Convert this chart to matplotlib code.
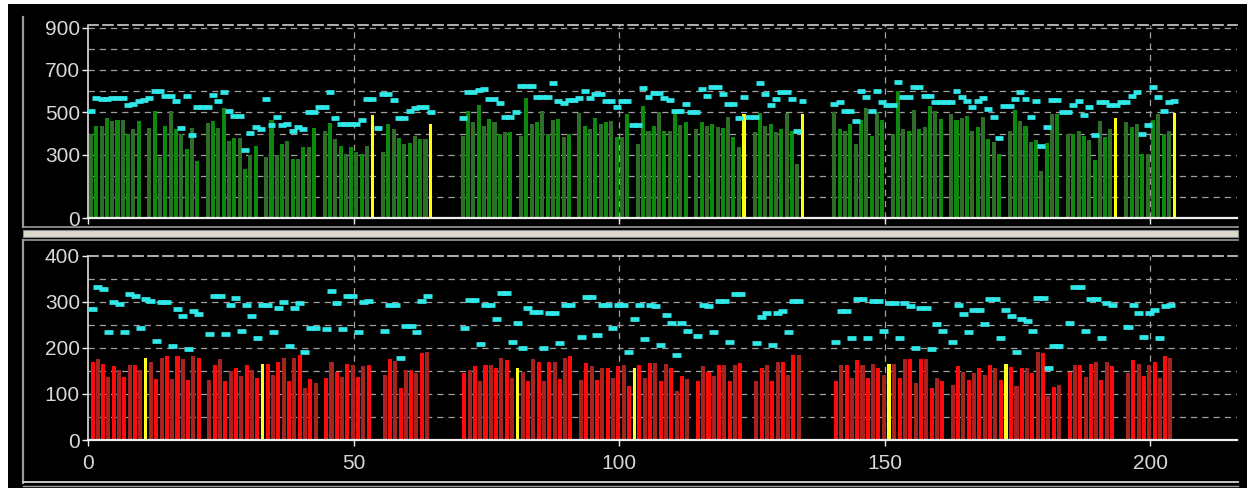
import numpy as np
import matplotlib
matplotlib.use("Agg")
import matplotlib.pyplot as plt
from matplotlib.lines import Line2D
from matplotlib.patches import Rectangle

# ---------------- data ----------------
# day positions: each block = 6 groups of 10 bars (top) / 4 groups (bottom)
top_group_starts = [0, 11, 22, 33, 44, 55, 70, 81, 92, 103, 114, 125,
                    140, 151, 162, 173, 184, 195]
top_group_len = 10
top_highlight_days = [53, 64, 123, 134, 193, 204]

top_values = [
    396, 435, 435, 474, 458, 466, 466, 396, 419, 458,
    427, 505, 287, 435, 505, 419, 396, 326, 427, 272,
    450, 458, 427, 520, 365, 380, 380, 233, 300, 342,
    287, 466, 300, 349, 365, 280, 280, 334, 334, 427,
    411, 450, 373, 342, 303, 334, 311, 303, 342, 489,
    311, 443, 419, 380, 349, 357, 388, 373, 373, 443,
    390, 506, 452, 536, 437, 468, 452, 399, 406, 406,
    390, 569, 444, 452, 506, 399, 466, 468, 382, 398,
    497, 437, 421, 475, 445, 452, 459, 382, 382, 490,
    350, 531, 414, 437, 500, 414, 412, 513, 440, 453,
    422, 453, 437, 445, 430, 424, 477, 382, 336, 492,
    406, 496, 437, 445, 406, 422, 496, 410, 257, 490,
    500, 422, 412, 445, 351, 466, 522, 388, 500, 466,
    400, 600, 422, 414, 513, 422, 430, 529, 506, 469,
    493, 466, 475, 484, 412, 430, 477, 375, 360, 303,
    414, 513, 458, 437, 360, 367, 221, 355, 490, 490,
    398, 398, 414, 386, 368, 273, 457, 382, 422, 475,
    453, 430, 443, 305, 305, 465, 492, 398, 412, 497,
]

top_cyan_blocks = [0, 70, 140]
top_cyan_block_len = 65
top_cyan = [
    # days 0-64
    505, 567, 562, 562, 567, 567, 567, 533, 540, 551,
    560, 567, 601, 601, 579, 579, 551, 424, 579, 393,
    523, 523, 523, 582, 554, 595, 505, 481, 481, 323,
    401, 430, 419, 564, 439, 477, 439, 446, 411, 430,
    419, 502, 502, 523, 523, 595, 471, 443, 443, 443,
    443, 466, 564, 564, 427, 585, 585, 556, 474, 474,
    505, 520, 523, 523, 500,
    # days 70-134
    471, 595, 595, 605, 610, 564, 564, 543, 477, 477,
    502, 626, 626, 626, 570, 570, 570, 640, 554, 543,
    559, 559, 567, 601, 567, 585, 585, 554, 554, 523,
    554, 554, 439, 439, 615, 570, 590, 590, 567, 559,
    508, 508, 539, 502, 502, 610, 579, 617, 617, 585,
    539, 539, 471, 574, 477, 477, 640, 585, 533, 564,
    595, 595, 564, 413, 554,
    # days 140-204
    539, 548, 508, 508, 461, 601, 573, 508, 601, 548,
    533, 533, 644, 570, 570, 617, 617, 579, 579, 548,
    548, 548, 548, 601, 570, 554, 523, 554, 567, 514,
    477, 377, 531, 531, 564, 595, 564, 477, 554, 339,
    430, 559, 559, 502, 502, 533, 554, 486, 523, 393,
    548, 548, 533, 533, 548, 548, 579, 595, 399, 439,
    621, 570, 508, 548, 554,
]

bot_group_starts = [0, 22, 44, 55, 70, 92, 114, 125, 140, 162, 184, 195]
bot_group_lens = [21, 21, 9, 9, 21, 21, 9, 9, 21, 21, 9, 9]
bot_highlight_days = [10, 32, 80, 102, 150, 172]

bot_values = [
    170, 175, 164, 137, 161, 152, 137, 163, 163, 152, 177, 170, 132, 177, 182, 132, 182, 175, 130, 182, 177,
    130, 163, 175, 128, 150, 156, 139, 163, 152, 134, 166, 166, 141, 170, 177, 127, 177, 185, 112, 132, 124,
    134, 170, 148, 136, 166, 163, 137, 161, 163,
    141, 175, 171, 112, 152, 152, 145, 188, 190,
    145, 152, 161, 127, 163, 163, 156, 177, 174, 134, 156, 148, 127, 175, 170, 127, 170, 170, 132, 177, 182,
    130, 168, 161, 130, 156, 156, 134, 161, 163, 117, 156, 163, 134, 168, 168, 127, 166, 156, 106, 139, 132,
    127, 161, 148, 139, 163, 163, 127, 163, 168,
    127, 156, 163, 127, 170, 170, 141, 185, 185,
    127, 163, 163, 134, 174, 163, 134, 166, 156, 141, 166, 166, 134, 175, 175, 124, 175, 175, 112, 134, 127,
    119, 161, 148, 130, 145, 156, 141, 163, 156, 130, 166, 159, 117, 156, 156, 145, 190, 188, 96, 116, 119,
    148, 163, 163, 137, 166, 170, 130, 170, 161,
    145, 174, 166, 139, 163, 170, 134, 182, 179,
]

bot_cyan = [
    284, 331, 328, 234, 299, 295, 234, 317, 313, 244, 306, 302, 215, 300, 299, 205, 284, 270, 197, 280, 273,
    229, 313, 313, 229, 292, 309, 236, 294, 270, 222, 292, 292, 234, 287, 299, 205, 287, 297, 190, 244, 244,
    241, 323, 297, 241, 313, 313, 234, 300, 302,
    236, 294, 292, 179, 248, 248, 234, 302, 313,
    244, 304, 304, 208, 293, 293, 263, 320, 320, 212, 253, 199, 287, 277, 277, 199, 275, 275, 210, 292, 292,
    224, 311, 311, 228, 294, 294, 242, 294, 294, 192, 263, 293, 219, 293, 290, 206, 272, 253, 184, 253, 237,
    226, 292, 290, 234, 302, 302, 212, 316, 316,
    210, 268, 275, 206, 275, 280, 234, 302, 302,
    212, 280, 280, 222, 307, 307, 222, 302, 302, 237, 297, 297, 222, 297, 290, 200, 287, 287, 197, 251, 237,
    212, 292, 273, 234, 282, 282, 251, 307, 307, 222, 282, 270, 192, 262, 258, 237, 309, 309, 156, 204, 204,
    255, 331, 331, 237, 307, 307, 221, 297, 294,
    245, 292, 276, 223, 276, 282, 221, 291, 292,
]

x_ticks = [0, 50, 100, 150, 200]
top_y_ticks = [0, 300, 500, 700, 900]
bot_y_ticks = [0, 100, 200, 300, 400]

# ---------------- derived positions / colours ----------------
top_days, top_col = [], []
for gi, s in enumerate(top_group_starts):
    for i in range(top_group_len):
        d = s + i
        top_days.append(d)
        if d in top_highlight_days:
            top_col.append("#ffff10")
        else:
            top_col.append("#0d8a0d" if i % 2 else "#2f6e29")
top_cyan_days = [b + i for b in top_cyan_blocks for i in range(top_cyan_block_len)]

bot_days, bot_col = [], []
for gi, (s, n) in enumerate(zip(bot_group_starts, bot_group_lens)):
    first_bright = (gi % 2 == 0)
    for i in range(n):
        d = s + i
        bot_days.append(d)
        if d in bot_highlight_days:
            bot_col.append("#ffff20")
        else:
            bright = (i % 2 == 0) == first_bright
            bot_col.append("#ff0a0a" if bright else "#a8231f")

W, H = 1253, 495
def rect(x0, y0, x1, y1):
    return [x0 / W, 1 - y1 / H, (x1 - x0) / W, (y1 - y0) / H]

fig = plt.figure(figsize=(W / 100, H / 100), dpi=100, facecolor="white")

# black window background
fig.patches.append(Rectangle((8 / W, 1 - 488 / H), (1247 - 8) / W, (488 - 4) / H,
                             transform=fig.transFigure, facecolor="black",
                             edgecolor="none", zorder=-5))

def fline(xs, ys, color, lw):
    fig.lines.append(Line2D([x / W for x in xs], [1 - y / H for y in ys],
                            transform=fig.transFigure, color=color, lw=lw, zorder=-4))

# panel frames
fline([23, 23], [17, 227], "#9a9a9a", 1.6)
fline([23, 1238], [227, 227], "#9a9a9a", 1.2)
fig.patches.append(Rectangle((23 / W, 1 - 237 / H), (1238 - 23) / W, 7 / H,
                             transform=fig.transFigure, facecolor="#dcd8cc",
                             edgecolor="#8c8c8c", lw=0.8, zorder=-4))
fline([23, 1238], [240, 240], "#9a9a9a", 1.2)
fline([23, 23], [240, 483], "#9a9a9a", 1.6)
fline([23, 1238], [482, 482], "#c8c8c8", 1.4)
fline([23, 1238], [486, 486], "#9a9a9a", 1.0)

XMAX = (1236.5 - 88.3) / 5.31
label_color = "#d8d8d8"
grid_kw = dict(color="#a0a0a0", lw=0.9, ls=(0, (5, 4)))

def style_axis(ax, ymax, yticks, grid_step):
    ax.set_zorder(2)
    ax.set_facecolor("black")
    ax.set_xlim(0, XMAX)
    ax.set_ylim(0, ymax)
    for y in np.arange(grid_step, ymax - 1, grid_step):
        ax.axhline(y, zorder=0.5, **grid_kw)
    for x in x_ticks[1:]:
        ax.axvline(x, zorder=0.5, **grid_kw)
    ax.spines["right"].set_visible(False)
    ax.spines["top"].set_color("#cfcfcf")
    ax.spines["top"].set_linestyle((0, (6, 3)))
    ax.spines["top"].set_linewidth(1.2)
    ax.spines["left"].set_color("#e0e0e0")
    ax.spines["left"].set_linestyle((0, (1, 1)))
    ax.spines["left"].set_linewidth(1.2)
    ax.spines["bottom"].set_color("#f0f0f0")
    ax.spines["bottom"].set_linewidth(1.6)
    ax.set_yticks(yticks)
    ax.set_xticks(x_ticks)
    ax.tick_params(axis="both", colors="#f0f0f0", length=4, width=1,
                   labelcolor=label_color, labelsize=15)
    ax.tick_params(axis="y", pad=2)
    for t in ax.get_yticklabels() + ax.get_xticklabels():
        t.set_fontfamily("Liberation Sans")

# ---------------- top panel ----------------
ax1 = fig.add_axes(rect(88.3, 218.3 - 910 * 0.212, 1236.5, 218.3))
style_axis(ax1, 910, top_y_ticks, 100)
ax1.set_xticklabels([])
top_w = [0.62 if c.startswith("#ffff") else 0.76 for c in top_col]
ax1.bar(np.array(top_days) + 0.5, top_values, width=top_w, color=top_col,
        linewidth=0, zorder=2)
ax1.hlines(top_cyan, np.array(top_cyan_days) + 0.5 - 0.75,
           np.array(top_cyan_days) + 0.5 + 0.75, color="#30e8e8",
           lw=3.4, capstyle="butt", zorder=3)

# ---------------- bottom panel ----------------
ax2 = fig.add_axes(rect(88.3, 255.7, 1236.5, 440))
style_axis(ax2, 400, bot_y_ticks, 50)
bot_w = [0.62 if c.startswith("#ffff") else 0.76 for c in bot_col]
ax2.bar(np.array(bot_days) + 0.8, bot_values, width=bot_w, color=bot_col,
        linewidth=0, zorder=2)
ax2.hlines(bot_cyan, np.array(bot_days) + 0.8 - 0.85,
           np.array(bot_days) + 0.8 + 0.85, color="#30e8e8",
           lw=3.4, capstyle="butt", zorder=3)
ax2.tick_params(axis="x", pad=6)

fig.savefig("out.png", dpi=100, facecolor="white")
